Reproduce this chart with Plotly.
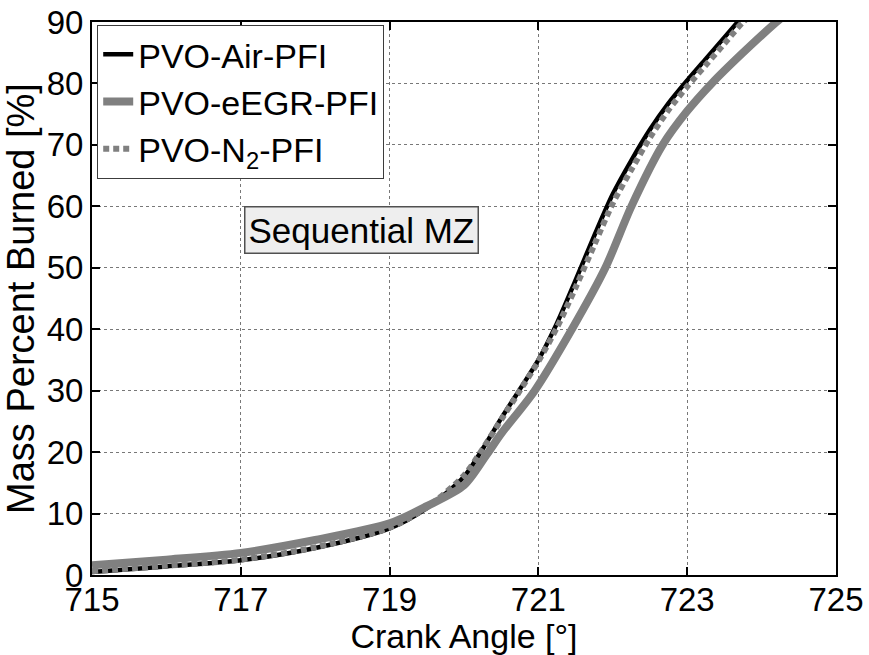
import plotly.graph_objects as go

# Crank angle [deg] and mass percent burned [%] for each case
air_x = [715, 716, 717, 718, 719, 719.5, 720, 720.25, 720.5, 720.75, 721, 721.25,
         721.5, 721.75, 722, 722.25, 722.5, 722.75, 723, 723.25, 723.5, 723.75]
air_y = [0.5, 1.4, 2.4, 4.4, 7.6, 10.9, 16.0, 20.5, 25.5, 30.2, 35.0, 41.0,
         48.0, 55.2, 62.0, 67.5, 72.5, 76.8, 80.5, 84.0, 87.5, 91.0]

egr_x = [715, 716, 717, 718, 719, 719.5, 720, 720.3, 720.5, 720.95, 721.45, 721.9,
         722.25, 722.67, 723.0, 723.33, 723.75, 724.2, 724.3]
egr_y = [1.6, 2.5, 3.6, 5.7, 8.4, 11.2, 14.6, 19.5, 23.0, 30.0, 40.0, 50.0,
         60.0, 70.0, 75.5, 80.0, 85.0, 90.0, 91.0]

n2_x = [715, 716, 717, 718, 719, 719.5, 720, 720.25, 720.5, 720.75, 721, 721.25,
        721.5, 721.75, 722, 722.25, 722.5, 722.75, 723, 723.25, 723.5, 723.75, 723.85]
n2_y = [0.6, 1.5, 2.5, 4.5, 7.7, 11.0, 16.2, 20.5, 25.3, 30.0, 34.8, 40.3,
        46.8, 53.7, 60.5, 66.0, 71.2, 75.7, 79.5, 83.0, 86.5, 90.0, 91.0]

x_ticks = [715, 717, 719, 721, 723, 725]
y_ticks = [0, 10, 20, 30, 40, 50, 60, 70, 80, 90]

FONT = "Liberation Sans, Arial, sans-serif"
GRAY = "rgb(128,128,128)"

fig = go.Figure()
fig.add_trace(go.Scatter(x=air_x, y=air_y, mode="lines", name="PVO-Air-PFI",
                         line=dict(color="black", width=4.5, shape="spline", smoothing=0.8)))
fig.add_trace(go.Scatter(x=egr_x, y=egr_y, mode="lines", name="PVO-eEGR-PFI",
                         line=dict(color=GRAY, width=8, shape="spline", smoothing=0.8)))
fig.add_trace(go.Scatter(x=n2_x, y=n2_y, mode="lines", name="PVO-N<sub>2</sub>-PFI",
                         line=dict(color=GRAY, width=6, dash="6px,4px",
                                   shape="spline", smoothing=0.8)))

axis_common = dict(
    showline=True, linecolor="black", linewidth=2, mirror="ticks",
    ticks="inside", ticklen=8, tickwidth=2, tickcolor="black",
    showgrid=True, gridcolor="rgb(120,120,120)", griddash="dot", gridwidth=1,
    zeroline=False, automargin=False,
)

fig.update_layout(
    width=869, height=655,
    margin=dict(l=92, r=33, t=22, b=80),
    paper_bgcolor="white", plot_bgcolor="white",
    font=dict(family=FONT, color="black"),
    xaxis=dict(range=[715, 725], tickvals=x_ticks, ticklabelstandoff=-6,
               tickfont=dict(family=FONT, size=33, color="black"),
               title=dict(text="Crank Angle [°]", font=dict(family=FONT, size=34), standoff=0),
               **axis_common),
    yaxis=dict(range=[0, 90], tickvals=y_ticks,
               tickfont=dict(family=FONT, size=33, color="black"),
               title=dict(text="Mass Percent Burned [%]", font=dict(family=FONT, size=38), standoff=2),
               **axis_common),
    legend=dict(x=0.007, y=0.995, xanchor="left", yanchor="top",
                bgcolor="white", bordercolor="rgb(60,60,60)", borderwidth=1,
                font=dict(family=FONT, size=34, color="black"),
                tracegroupgap=0, itemwidth=30),
    showlegend=True,
)

fig.add_annotation(x=718.62, y=56.1, xref="x", yref="y", text="Sequential MZ",
                   showarrow=False, font=dict(family=FONT, size=35, color="black"),
                   bgcolor="rgb(238,238,238)", bordercolor="rgb(80,80,80)",
                   borderwidth=1.5, borderpad=3)

fig.write_html("out.html")
